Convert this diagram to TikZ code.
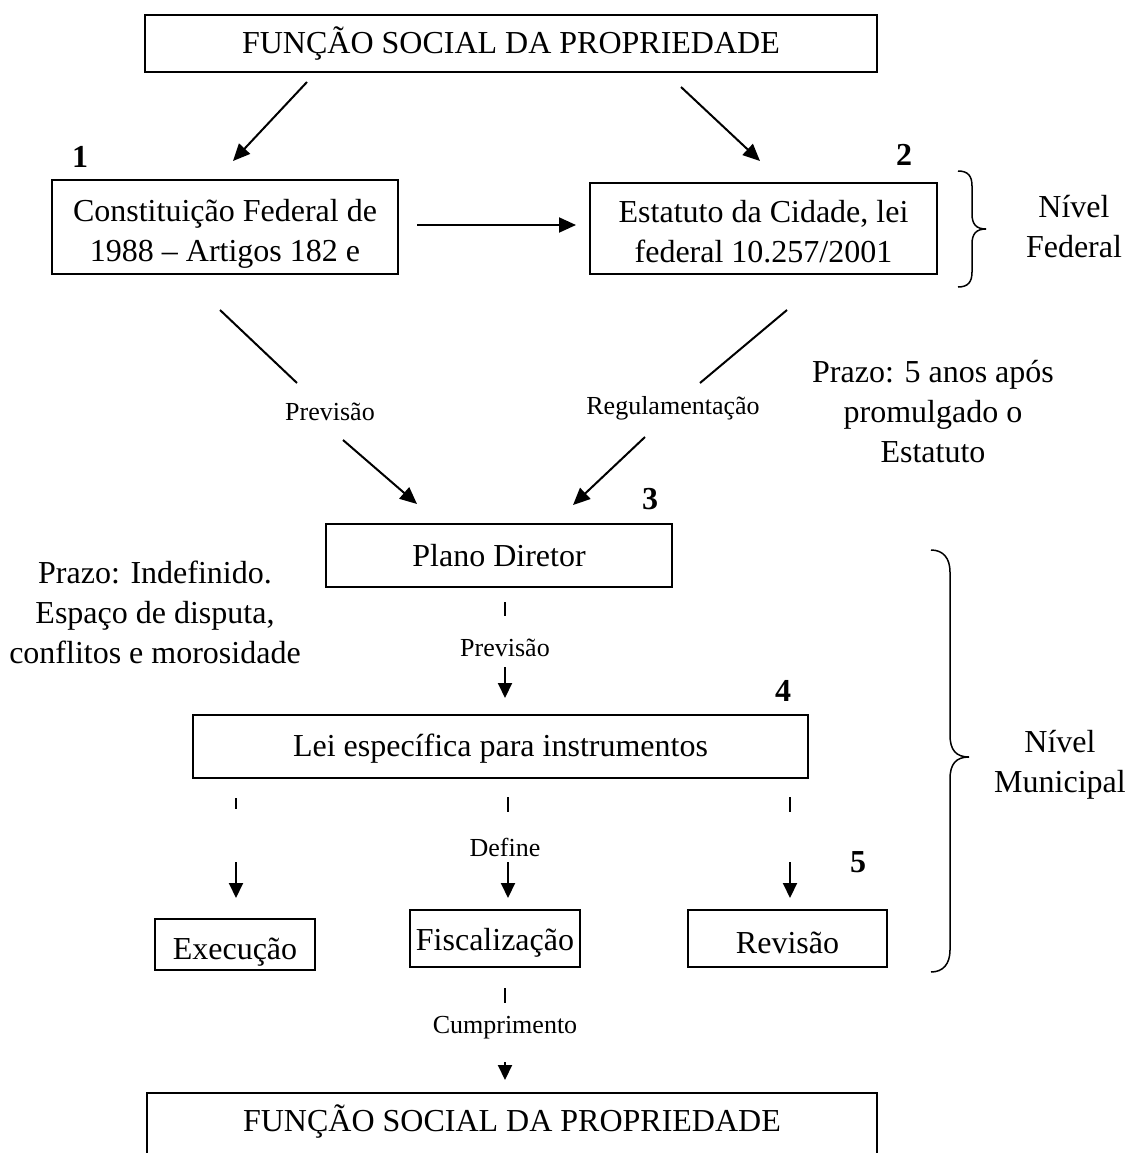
\documentclass[tikz,border=0pt]{standalone}
\usepackage{fontspec}
\setmainfont{Liberation Serif}
\usetikzlibrary{arrows.meta}
\newcommand{\lowertext}[2]{\raisebox{-#1}[\height][\depth]{#2}}
\begin{document}
\begin{tikzpicture}[x=1pt,y=-1pt,
  box/.style={draw, line width=1.5pt, inner sep=0pt, align=center, font=\fontsize{32}{40}\selectfont},
  lbl/.style={font=\fontsize{26}{30}\selectfont, inner sep=0pt},
  txt/.style={font=\fontsize{32}{40}\selectfont, align=center, inner sep=0pt},
  num/.style={font=\fontsize{32}{36}\selectfont\bfseries, inner sep=0pt},
  arr/.style={line width=2pt, -{Triangle[length=17pt,width=15pt]}},
  sarr/.style={line width=2pt, -{Triangle[length=15pt,width=14pt]}},
  ln/.style={line width=2pt},
  brc/.style={line width=1.5pt}
]
\useasboundingbox (0,0) rectangle (1127,1153);
\clip (0,0) rectangle (1127,1153);

% boxes
\node[box, line width=2.2pt, minimum width=732pt, minimum height=57pt] (top) at (511,43.5) {FUNÇÃO SOCIAL DA PROPRIEDADE};
\node[box, minimum width=346pt, minimum height=94pt] (cf) at (225,227) {\rule{0pt}{35pt}Constituição Federal de\\1988 – Artigos 182 e};
\node[box, minimum width=347pt, minimum height=91pt] (ec) at (763.5,228.5) {\rule{0pt}{29pt}Estatuto da Cidade, lei\\federal 10.257/2001};
\node[box, minimum width=346pt, minimum height=63pt] (pd) at (499,555.5) {Plano Diretor};
\node[box, minimum width=615pt, minimum height=63pt] (lei) at (500.5,746.5) {\lowertext{2pt}{Lei específica para instrumentos}};
\node[box, minimum width=160pt, minimum height=51pt] (exe) at (235,944.5) {\lowertext{8pt}{Execução}};
\node[box, minimum width=170pt, minimum height=57pt] (fis) at (495,938.5) {\lowertext{4pt}{Fiscalização}};
\node[box, minimum width=199pt, minimum height=57pt] (rev) at (787.5,938.5) {\lowertext{4pt}{Revisão}};
\node[txt] (bot) at (512,1122) {FUNÇÃO SOCIAL DA PROPRIEDADE};
\draw[line width=1.5pt] (147,1175) |- (877,1093) -- (877,1175);

% numbers
\node[num] (n1) at (80,157) {1};
\node[num] (n2) at (904,155) {2};
\node[num] (n3) at (650,499) {3};
\node[num] (n4) at (783,691) {4};
\node[num] (n5) at (858,862) {5};

% side texts
\node[txt] (pzr) at (933,412) {Prazo: 5 anos após\\promulgado o\\Estatuto};
\node[txt] (pzl) at (155,612) {Prazo: Indefinido.\\Espaço de disputa,\\conflitos e morosidade};
\node[txt] (nf) at (1074,227) {Nível\\Federal};
\node[txt] (nm) at (1060,765) {Nível\\Municipal};

% labels
\node[lbl] (l1) at (330,412) {Previsão};
\node[lbl] (l2) at (673,408) {Regulamentação};
\node[lbl] (l3) at (505,648) {Previsão};
\node[lbl] (l4) at (505,847) {Define};
\node[lbl] (l5) at (505,1028) {Cumprimento};

% coordinates for floating connectors
\coordinate (a1s) at (307,82);  \coordinate (a1e) at (233,161);
\coordinate (a2s) at (681,87);  \coordinate (a2e) at (760,161);
\coordinate (a3s) at (417,225); \coordinate (a3e) at (576,225);
\coordinate (b1s) at (220,310); \coordinate (b1e) at (297,383);
\coordinate (b2s) at (343,440); \coordinate (b2e) at (417,504);
\coordinate (c1s) at (787,310); \coordinate (c1e) at (700,383);
\coordinate (c2s) at (645,437); \coordinate (c2e) at (573,505);
\coordinate (d1s) at (505,602); \coordinate (d1e) at (505,616);
\coordinate (d2s) at (505,667); \coordinate (d2e) at (505,698);
\coordinate (e1s) at (236,798); \coordinate (e1e) at (236,809);
\coordinate (e2s) at (508,797); \coordinate (e2e) at (508,812);
\coordinate (e3s) at (790,797); \coordinate (e3e) at (790,812);
\coordinate (f1s) at (236,862); \coordinate (f1e) at (236,898);
\coordinate (f2s) at (508,862); \coordinate (f2e) at (508,898);
\coordinate (f3s) at (790,862); \coordinate (f3e) at (790,898);
\coordinate (g1s) at (505,988); \coordinate (g1e) at (505,1003);
\coordinate (g2s) at (505,1062); \coordinate (g2e) at (505,1080);

\draw[arr] (a1s) -- (a1e);
\draw[arr] (a2s) -- (a2e);
\draw[arr] (a3s) -- (a3e);
\draw[ln] (b1s) -- (b1e);
\draw[arr] (b2s) -- (b2e);
\draw[ln] (c1s) -- (c1e);
\draw[arr] (c2s) -- (c2e);
\draw[ln] (d1s) -- (d1e);
\draw[sarr] (d2s) -- (d2e);
\draw[ln] (e1s) -- (e1e);
\draw[ln] (e2s) -- (e2e);
\draw[ln] (e3s) -- (e3e);
\draw[sarr] (f1s) -- (f1e);
\draw[sarr] (f2s) -- (f2e);
\draw[sarr] (f3s) -- (f3e);
\draw[ln] (g1s) -- (g1e);
\draw[sarr] (g2s) -- (g2e);

% braces
\draw[brc] (958,171) .. controls (968,171) and (972,176) .. (972,186) -- (972,214)
  .. controls (972,224) and (976,229) .. (986,229)
  .. controls (976,229) and (972,234) .. (972,244) -- (972,272)
  .. controls (972,282) and (968,287) .. (958,287);
\draw[brc] (931,550) .. controls (943,550) and (950,558) .. (950,572) -- (950,735)
  .. controls (950,750) and (956,757) .. (969,757)
  .. controls (956,757) and (950,764) .. (950,779) -- (950,950)
  .. controls (950,964) and (943,972) .. (931,972);
\end{tikzpicture}
\end{document}
